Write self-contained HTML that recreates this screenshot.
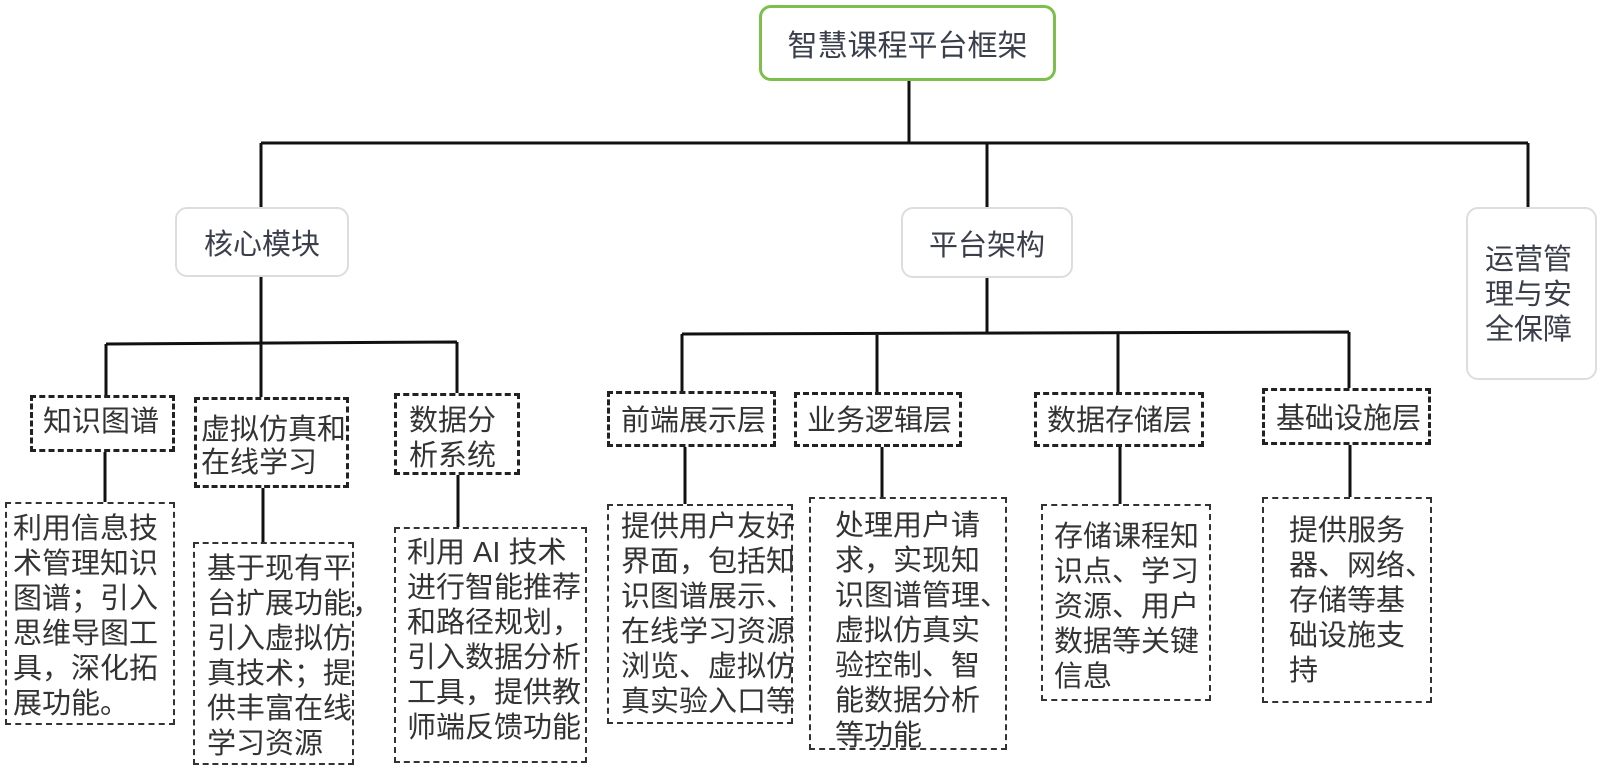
<!DOCTYPE html>
<html><head><meta charset="utf-8"><style>
body{margin:0;width:1600px;height:768px;background:#fff;position:relative;overflow:hidden;font-family:"Liberation Sans","Noto Sans CJK SC",sans-serif;color:#333}
.b{position:absolute;box-sizing:border-box}
.t{position:absolute;font-size:29px;line-height:35px;white-space:nowrap;color:#333}
.g{border:2px solid #ddd;border-radius:12px;display:flex;align-items:center;justify-content:center;font-size:29px;color:#3a3f4b}
.h{border:3px dashed #222}
.d{border:2px dashed #333}
svg{position:absolute;left:0;top:0}
</style></head><body>
<svg width="1600" height="768"><g stroke="#111" stroke-width="3" fill="none">
<path d="M909 81V143M261 143H1528M261 143V207M987 143V207M1528 143V207"/>
<path d="M261 277V343M106 344L457 342M106 344V395M261 343V397M457 342V393"/>
<path d="M105 452V502M263 488V542M458 475V527"/>
<path d="M987 278V333M682 334L1349 332M682 334V391M877 333V392M1118 333V392M1349 332V388"/>
<path d="M685 447V504M882 447V497M1120 447V504M1350 445V497"/>
</g></svg>
<div class="b g" style="left:759px;top:5px;width:297px;height:76px;border:3px solid #7cc04b;font-size:30px">智慧课程平台框架</div>
<div class="b g" style="left:175px;top:207px;width:174px;height:70px">核心模块</div>
<div class="b g" style="left:901px;top:207px;width:172px;height:71px">平台架构</div>
<div class="b g" style="left:1466px;top:207px;width:131px;height:173px"></div>
<div class="t" style="left:1485px;top:243px;color:#3a3f4b">运营管<br>理与安<br>全保障</div>

<div class="b h" style="left:30px;top:395px;width:145px;height:57px"></div><div class="t" style="left:43px;top:405px">知识图谱</div>
<div class="b h" style="left:194px;top:397px;width:155px;height:91px"></div><div class="t" style="left:201px;top:414px;line-height:33px">虚拟仿真和<br>在线学习</div>
<div class="b h" style="left:394px;top:393px;width:126px;height:82px"></div><div class="t" style="left:409px;top:404px">数据分<br>析系统</div>
<div class="b h" style="left:607px;top:391px;width:169px;height:56px"></div><div class="t" style="left:621px;top:404px">前端展示层</div>
<div class="b h" style="left:794px;top:392px;width:168px;height:55px"></div><div class="t" style="left:807px;top:404px">业务逻辑层</div>
<div class="b h" style="left:1034px;top:392px;width:170px;height:55px"></div><div class="t" style="left:1047px;top:404px">数据存储层</div>
<div class="b h" style="left:1262px;top:388px;width:169px;height:57px"></div><div class="t" style="left:1276px;top:402px">基础设施层</div>

<div class="b d" style="left:5px;top:502px;width:170px;height:223px"></div><div class="t" style="left:13px;top:512px">利用信息技<br>术管理知识<br>图谱；引入<br>思维导图工<br>具，深化拓<br>展功能。</div>
<div class="b d" style="left:193px;top:542px;width:161px;height:223px"></div><div class="t" style="left:207px;top:552px">基于现有平<br>台扩展功能，<br>引入虚拟仿<br>真技术；提<br>供丰富在线<br>学习资源</div>
<div class="b d" style="left:394px;top:527px;width:193px;height:236px"></div><div class="t" style="left:407px;top:536px">利用 AI 技术<br>进行智能推荐<br>和路径规划，<br>引入数据分析<br>工具，提供教<br>师端反馈功能</div>
<div class="b d" style="left:607px;top:504px;width:186px;height:220px"></div><div class="t" style="left:621px;top:510px">提供用户友好<br>界面，包括知<br>识图谱展示、<br>在线学习资源<br>浏览、虚拟仿<br>真实验入口等</div>
<div class="b d" style="left:809px;top:497px;width:198px;height:253px"></div><div class="t" style="left:835px;top:509px">处理用户请<br>求，实现知<br>识图谱管理、<br>虚拟仿真实<br>验控制、智<br>能数据分析<br>等功能</div>
<div class="b d" style="left:1041px;top:504px;width:170px;height:197px"></div><div class="t" style="left:1054px;top:520px">存储课程知<br>识点、学习<br>资源、用户<br>数据等关键<br>信息</div>
<div class="b d" style="left:1262px;top:497px;width:170px;height:206px"></div><div class="t" style="left:1289px;top:514px">提供服务<br>器、网络、<br>存储等基<br>础设施支<br>持</div>
</body></html>
